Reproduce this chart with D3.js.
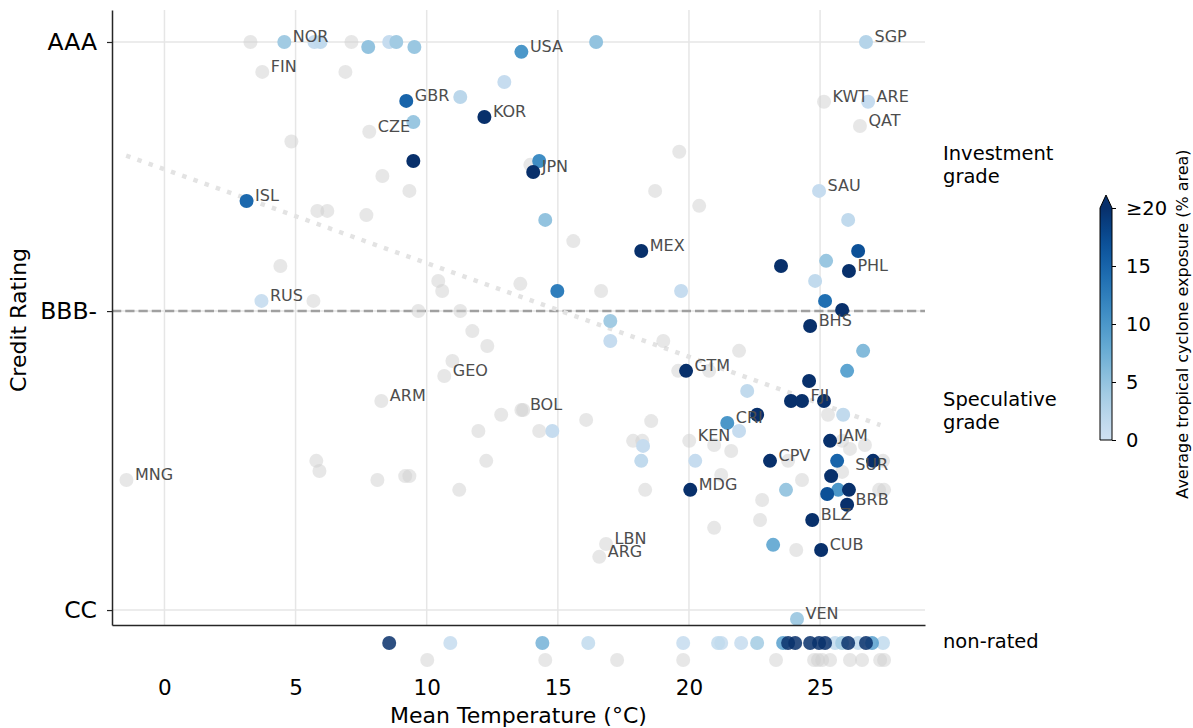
<!DOCTYPE html>
<html>
<head>
<meta charset="utf-8">
<script src="https://cdn.jsdelivr.net/npm/d3@7"></script>
<style>
  body { margin: 0; background: #fff; }
  svg text { font-family: "DejaVu Sans", sans-serif; }
</style>
</head>
<body>
<svg id="chart" width="1193" height="728"></svg>
<script>
// Rating scores: 1 = CC ... 20 = AAA (average over agencies)
const ratingTicks = [["AAA", 20], ["BBB-", 11], ["CC", 1]];
const investmentThreshold = 11;          // BBB-
const tempTicks = [0, 5, 10, 15, 20, 25];
const exposureTicks = [0, 5, 10, 15, 20];
const exposureCap = 20;

// [ISO code, mean temperature (°C), rating score] — no tropical cyclone exposure
const ratedUnexposed = [
  ["", 3.28, 20], ["FIN", 3.73, 19.0], ["", 7.13, 20], ["", 6.90, 19.0],
  ["KWT", 25.15, 18.0], ["QAT", 26.52, 17.19], ["CZE", 7.81, 17.0], ["", 4.84, 16.67],
  ["", 19.63, 16.33], ["", 13.95, 15.89], ["", 8.31, 15.52], ["", 9.34, 15.02],
  ["", 18.71, 15.02], ["", 20.39, 14.52], ["", 5.83, 14.35], ["", 6.21, 14.35],
  ["", 7.70, 14.21], ["", 15.59, 13.34], ["", 4.42, 12.51], ["", 10.44, 12.01],
  ["", 13.57, 11.91], ["", 10.59, 11.67], ["", 16.65, 11.67], ["", 5.68, 11.34],
  ["", 9.68, 11.0], ["", 11.28, 11.0], ["", 11.74, 10.33], ["", 19.02, 10.0],
  ["", 12.31, 9.83], ["", 21.91, 9.67], ["", 10.98, 9.33], ["", 19.59, 9.0],
  ["", 20.77, 9.0], ["GEO", 10.67, 8.83], ["ARM", 8.27, 7.99], ["BOL", 13.61, 7.69],
  ["", 13.68, 7.69], ["", 12.84, 7.53], ["", 25.30, 7.53], ["", 16.08, 7.36],
  ["", 18.56, 7.32], ["", 11.97, 6.99], ["", 14.29, 6.99], ["", 17.87, 6.66],
  ["", 18.22, 6.66], ["KEN", 20.01, 6.66], ["", 25.84, 6.66], ["", 20.96, 6.52],
  ["", 26.71, 6.52], ["", 26.14, 6.39], ["", 21.61, 6.32], ["", 5.79, 5.99],
  ["", 12.27, 5.99], ["", 23.78, 5.99], ["", 27.40, 5.99], ["", 5.91, 5.65],
  ["", 25.84, 5.62], ["", 9.18, 5.48], ["", 9.34, 5.48], ["", 21.23, 5.52],
  ["MNG", -1.45, 5.35], ["", 8.12, 5.35], ["", 24.31, 5.35], ["", 11.24, 5.02],
  ["", 18.33, 5.02], ["", 27.25, 5.02], ["", 27.44, 5.02], ["", 22.79, 4.68],
  ["", 22.71, 4.01], ["", 20.96, 3.75], ["LBN", 16.84, 3.21], ["", 24.09, 3.01],
  ["ARG", 16.58, 2.78]
];

// [ISO code, mean temperature (°C), rating score, tropical cyclone exposure (% area)]
const ratedExposed = [
  ["NOR", 4.57, 20, 4], ["", 5.72, 20, 1], ["", 5.95, 20, 1.5], ["", 7.77, 19.83, 5],
  ["", 8.57, 20, 1], ["", 8.84, 20, 4], ["", 9.53, 19.83, 4.5], ["USA", 13.61, 19.67, 10],
  ["", 16.46, 20, 5], ["SGP", 26.75, 20, 2.5], ["", 12.96, 18.66, 1], ["GBR", 9.22, 18.03, 15],
  ["", 11.28, 18.16, 2], ["KOR", 12.20, 17.49, 22], ["", 9.49, 17.32, 4.5], ["ARE", 26.83, 18.0, 1],
  ["", 9.49, 16.02, 22], ["", 14.29, 16.02, 11], ["JPN", 14.06, 15.65, 22], ["SAU", 24.96, 15.02, 1],
  ["ISL", 3.13, 14.68, 14.5], ["", 14.52, 14.05, 5], ["", 26.07, 14.05, 1.5], ["MEX", 18.18, 13.01, 22],
  ["", 26.45, 13.01, 17], ["", 25.23, 12.68, 4.5], ["", 23.51, 12.51, 22], ["PHL", 26.10, 12.34, 22],
  ["", 24.81, 12.01, 1.5], ["", 14.98, 11.67, 12.5], ["", 19.70, 11.67, 1], ["RUS", 3.70, 11.34, 0.5],
  ["", 25.19, 11.34, 14], ["", 25.84, 11.04, 22], ["", 17.00, 10.67, 4], ["BHS", 24.62, 10.50, 22],
  ["", 17.00, 10.0, 1], ["", 26.64, 9.67, 6], ["GTM", 19.89, 9.0, 22], ["", 26.03, 9.0, 8.5],
  ["", 24.58, 8.66, 22], ["", 22.22, 8.33, 1.5], ["", 23.89, 7.99, 22], ["FJI", 24.31, 7.99, 22],
  ["", 25.15, 7.99, 22], ["", 22.60, 7.53, 22], ["", 25.88, 7.53, 1.5], ["CRI", 21.46, 7.26, 10],
  ["", 14.79, 6.99, 1], ["", 21.91, 6.99, 1], ["JAM", 25.38, 6.66, 22], ["", 18.25, 6.49, 1],
  ["", 18.18, 5.99, 1.5], ["", 20.24, 5.99, 1], ["CPV", 23.09, 5.99, 22], ["SUR", 25.65, 5.99, 15],
  ["", 27.02, 5.99, 22], ["", 25.42, 5.48, 22], ["MDG", 20.05, 5.02, 22], ["", 23.70, 5.02, 4.5],
  ["", 25.27, 4.88, 17], ["", 25.69, 5.02, 10], ["", 26.10, 5.02, 22], ["BRB", 26.03, 4.52, 22],
  ["BLZ", 24.70, 4.01, 22], ["", 23.21, 3.18, 7.5], ["CUB", 25.04, 3.01, 22], ["VEN", 24.12, 0.70, 4]
];

// Countries without a rating: [mean temperature, exposure] and mean temperature only
const nonRatedExposed = [
  [8.57, 20], [10.90, 1], [14.41, 7], [16.16, 1.5], [19.78, 1], [21.11, 1.5], [21.23, 1],
  [21.99, 1], [22.60, 4], [23.59, 9], [23.78, 20], [24.05, 20], [24.62, 20], [24.96, 20],
  [25.19, 20], [25.57, 1.5], [25.84, 4], [26.07, 20], [26.45, 1.5], [26.75, 20], [26.98, 9],
  [27.40, 1.5]
];
const nonRatedUnexposed = [10.02, 14.52, 17.26, 19.78, 23.32, 24.77, 24.92, 25.08, 25.38,
  26.14, 26.60, 27.29, 27.44];

// Linear fit of rating score on temperature
const trendIntercept = 15.74;
const trendSlope = -0.3134;
const trendRange = [-1.46, 27.3];

// Label nudges where labels were moved off their default spot
const labelNudge = { SUR: [9.5, 9.5] };

const svg = d3.select("#chart");
const x = d3.scaleLinear().domain([-2, 29]).range([112, 925]);
const y = d3.scaleLinear().domain([0.5, 21.07]).range([625, 10]);
const nonRatedRow = d3.scalePoint().domain(["exposed", "unexposed"]).range([643, 660]);
const color = v => d3.interpolateBlues(0.2 + 0.8 * Math.min(v, exposureCap) / exposureCap);

const [x0, x1] = x.range();
const [yb, yt] = y.range();

// grid
const grid = svg.append("g").attr("stroke", "#e6e6e6").attr("stroke-width", 1.5);
grid.selectAll(".gx").data(tempTicks).join("line")
  .attr("x1", d => x(d)).attr("x2", d => x(d)).attr("y1", yt).attr("y2", yb);
grid.selectAll(".gy").data(ratingTicks).join("line")
  .attr("x1", x0).attr("x2", x1).attr("y1", d => y(d[1])).attr("y2", d => y(d[1]));

// investment-grade threshold
svg.append("line")
  .attr("x1", x0).attr("x2", x1)
  .attr("y1", y(investmentThreshold)).attr("y2", y(investmentThreshold))
  .attr("stroke", "#a0a0a0").attr("stroke-width", 2.5).attr("stroke-dasharray", "9.25,4");

// trend
svg.append("line")
  .attr("x1", x(trendRange[0])).attr("y1", y(trendIntercept + trendSlope * trendRange[0]))
  .attr("x2", x(trendRange[1])).attr("y2", y(trendIntercept + trendSlope * trendRange[1]))
  .attr("stroke", "#e3e3e3").attr("stroke-width", 4.5).attr("stroke-dasharray", "4.5,7.4");

// points
const R = 7;
svg.append("g").selectAll("circle").data(ratedUnexposed).join("circle")
  .attr("cx", d => x(d[1])).attr("cy", d => y(d[2])).attr("r", R)
  .attr("fill", "#d0d0d0").attr("fill-opacity", 0.5);

svg.append("g").selectAll("circle").data(nonRatedUnexposed).join("circle")
  .attr("cx", d => x(d)).attr("cy", nonRatedRow("unexposed")).attr("r", R)
  .attr("fill", "#d0d0d0").attr("fill-opacity", 0.5);

const exposedSorted = ratedExposed.slice().sort((a, b) => a[3] - b[3]);
svg.append("g").selectAll("circle").data(exposedSorted).join("circle")
  .attr("cx", d => x(d[1])).attr("cy", d => y(d[2])).attr("r", R)
  .attr("fill", d => color(d[3]));

svg.append("g").selectAll("circle")
  .data(nonRatedExposed.slice().sort((a, b) => a[1] - b[1])).join("circle")
  .attr("cx", d => x(d[0])).attr("cy", nonRatedRow("exposed")).attr("r", R)
  .attr("fill", d => color(d[1])).attr("fill-opacity", 0.85);

// country labels
const labelled = ratedUnexposed.map(d => [d[0], d[1], d[2]])
  .concat(ratedExposed.map(d => [d[0], d[1], d[2]]))
  .filter(d => d[0] !== "");
svg.append("g").selectAll("text").data(labelled).join("text")
  .attr("x", d => x(d[1]) + 8.5 + (labelNudge[d[0]] ? labelNudge[d[0]][0] : 0))
  .attr("y", d => y(d[2]) + (labelNudge[d[0]] ? labelNudge[d[0]][1] : 0))
  .attr("font-size", 16).attr("fill", "#4d4d4d")
  .text(d => d[0]);

// axes
const yAxis = svg.append("g").attr("transform", `translate(${x0},0)`)
  .call(d3.axisLeft(y).tickValues(ratingTicks.map(d => d[1]))
    .tickFormat(v => ratingTicks.find(d => d[1] === v)[0])
    .tickSize(5).tickSizeOuter(0).tickPadding(10));
yAxis.select(".domain").attr("stroke", "#262626").attr("stroke-width", 1.5);
yAxis.selectAll(".tick line").attr("stroke", "#262626").attr("stroke-width", 1.2);
yAxis.selectAll(".tick text").attr("font-size", 23.5).attr("fill", "#000")
  .attr("font-family", "DejaVu Sans");

const xAxis = svg.append("g").attr("transform", `translate(0,${yb})`)
  .call(d3.axisBottom(x).tickValues(tempTicks).tickSize(0).tickSizeOuter(0).tickPadding(55));
xAxis.select(".domain").attr("stroke", "#262626").attr("stroke-width", 1.5);
xAxis.selectAll(".tick text").attr("font-size", 21.5).attr("fill", "#000")
  .attr("font-family", "DejaVu Sans");

svg.append("text")
  .attr("x", (x0 + x1) / 2).attr("y", 723)
  .attr("text-anchor", "middle").attr("font-size", 22)
  .text("Mean Temperature (°C)");

svg.append("text")
  .attr("transform", `translate(26,${(yb + yt) / 2 + 2.5}) rotate(-90)`)
  .attr("text-anchor", "middle").attr("font-size", 22)
  .text("Credit Rating");

// grade annotations
const ann = svg.append("g").attr("font-size", 19.5).attr("fill", "#000");
ann.append("text").attr("x", 943).attr("y", 160).text("Investment");
ann.append("text").attr("x", 943).attr("y", 183).text("grade");
ann.append("text").attr("x", 943).attr("y", 406).text("Speculative");
ann.append("text").attr("x", 943).attr("y", 429).text("grade");
ann.append("text").attr("x", 943).attr("y", 648).text("non-rated");

// colour bar
const cb = { x: 1100, w: 12 };
const cbY = d3.scaleLinear().domain([0, exposureCap]).range([440, 208]);
const defs = svg.append("defs");
const grad = defs.append("linearGradient").attr("id", "cbGrad")
  .attr("x1", 0).attr("x2", 0).attr("y1", 1).attr("y2", 0);
d3.range(0, 1.0001, 0.05).forEach(t => {
  grad.append("stop").attr("offset", t).attr("stop-color", color(t * exposureCap));
});
const [cbBottom, cbTop] = cbY.range();
svg.append("rect").attr("x", cb.x).attr("y", cbTop).attr("width", cb.w)
  .attr("height", cbBottom - cbTop).attr("fill", "url(#cbGrad)");
svg.append("path")
  .attr("d", `M${cb.x},${cbTop}L${cb.x + cb.w / 2},${cbTop - 13}L${cb.x + cb.w},${cbTop}Z`)
  .attr("fill", color(exposureCap));
svg.append("path")
  .attr("d", `M${cb.x},${cbBottom}V${cbTop}L${cb.x + cb.w / 2},${cbTop - 13}L${cb.x + cb.w},${cbTop}V${cbBottom}Z`)
  .attr("fill", "none").attr("stroke", "#000").attr("stroke-width", 1);
const cbAxis = svg.append("g").attr("transform", `translate(${cb.x + cb.w},0)`)
  .call(d3.axisRight(cbY).tickValues(exposureTicks)
    .tickFormat(v => v === exposureCap ? "≥" + v : v).tickSize(4).tickPadding(10));
cbAxis.select(".domain").remove();
cbAxis.selectAll(".tick line").attr("stroke", "#000");
cbAxis.selectAll(".tick text").attr("font-size", 19.5).attr("fill", "#000")
  .attr("font-family", "DejaVu Sans");

svg.append("text")
  .attr("transform", `translate(1188,324) rotate(-90)`)
  .attr("text-anchor", "middle").attr("font-size", 16)
  .text("Average tropical cyclone exposure (% area)");
</script>
</body>
</html>
